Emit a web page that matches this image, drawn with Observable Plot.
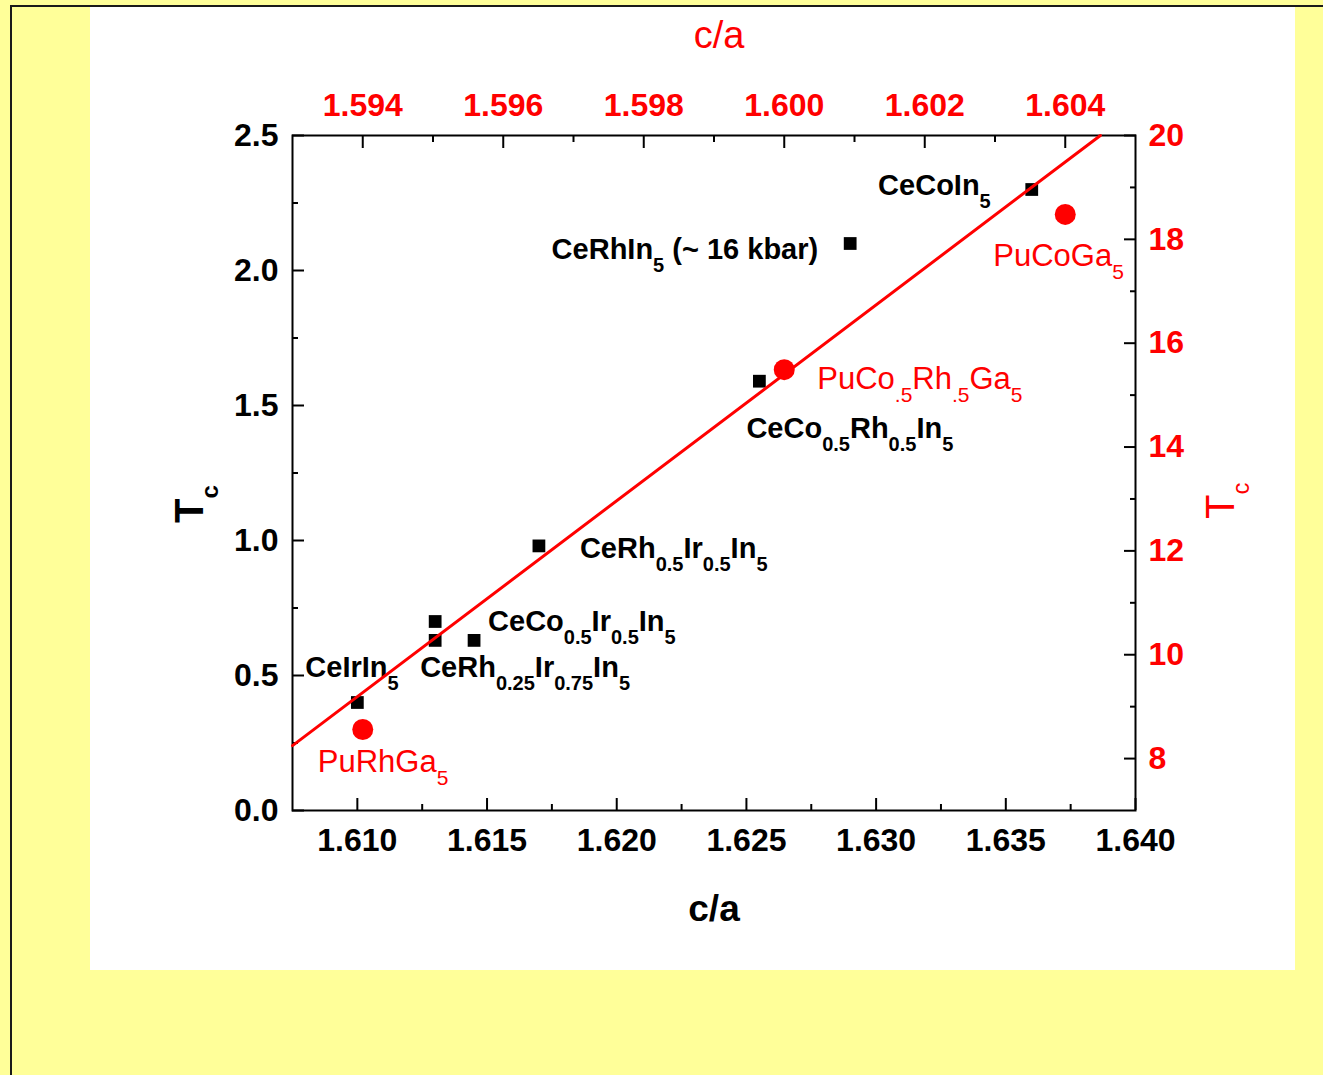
<!DOCTYPE html>
<html>
<head>
<meta charset="utf-8">
<script src="https://cdn.jsdelivr.net/npm/d3@7"></script>
<script src="https://cdn.jsdelivr.net/npm/@observablehq/plot@0.6"></script>
<style>
  html, body { margin: 0; padding: 0; }
  body { width: 1323px; height: 1075px; overflow: hidden; background: #ffff99; position: relative;
         font-family: "Liberation Sans", Arial, sans-serif; }
  #border { position: absolute; left: 10px; top: 5px; width: 1330px; height: 1090px;
            border-left: 2px solid #1a1a1a; border-top: 2px solid #1a1a1a; }
  #panel { position: absolute; left: 90px; top: 7px; width: 1205px; height: 963px; background: #ffffff; }
  .layer { position: absolute; left: 0; top: 0; }
  .layer svg { display: block; max-width: none; }
</style>
</head>
<body>
<div id="border"></div>
<div id="panel">
  <div id="layerA" class="layer"></div>
  <div id="layerB" class="layer"></div>
</div>
<script>
// ---------- Data: Ce-115 compounds (bottom c/a axis, left Tc axis) ----------
const ceCA = [1.6100, 1.6130, 1.6130, 1.6145, 1.6170, 1.6255, 1.6290, 1.6360];
const ceTc = [0.40, 0.63, 0.70, 0.63, 0.98, 1.59, 2.10, 2.30];
const ceLabels = ["CeIrIn_{5}", "CeRh_{0.25}Ir_{0.75}In_{5}", "CeCo_{0.5}Ir_{0.5}In_{5}",
                  "CeRh_{0.5}Ir_{0.5}In_{5}", "CeCo_{0.5}Rh_{0.5}In_{5}",
                  "CeRhIn_{5} (~ 16 kbar)", "CeCoIn_{5}"];
const ceLabelPoint = [0, 1, 3, 4, 5, 6, 7];

// ---------- Data: Pu-115 compounds (top c/a axis, right Tc axis) ----------
const puCA = [1.5940, 1.6000, 1.6040];
const puTc = [8.56, 15.49, 18.48];
const puLabels = ["PuRhGa_{5}", "PuCo_{.5}Rh_{.5}Ga_{5}", "PuCoGa_{5}"];

// linear fit line (top/right units)
const fitCA = [1.5930, 1.6045];
const fitTc = [8.25, 20.0];

// ---------- Axis ticks ----------
const bottomTicks = [1.610, 1.615, 1.620, 1.625, 1.630, 1.635, 1.640];
const bottomMinor = [1.6125, 1.6175, 1.6225, 1.6275, 1.6325, 1.6375];
const leftTicks = [0.0, 0.5, 1.0, 1.5, 2.0, 2.5];
const leftMinor = [0.25, 0.75, 1.25, 1.75, 2.25];
const topTicks = [1.594, 1.596, 1.598, 1.600, 1.602, 1.604];
const topMinor = [1.595, 1.597, 1.599, 1.601, 1.603];
const rightTicks = [8, 10, 12, 14, 16, 18, 20];
const rightMinor = [9, 11, 13, 15, 17, 19];

// ---------- Label placement (pixel offsets from the point, separate from data) ----------
const ceLabelDx = [-52, -15, 14, 41, -13, -32, -41];
const ceLabelDy = [-26, 37, -9, 12, 57, 15, 5];
const ceLabelAnchor = ["start", "start", "start", "start", "start", "end", "end"];
const puLabelDx = [-45, 33, -72];
const puLabelDy = [42, 19, 52];

const FONT = "'Liberation Sans', Arial, Helvetica, sans-serif";
const W = 1205, H = 963;
const M = {marginLeft: 202, marginRight: 160, marginTop: 128, marginBottom: 160};

const ceData = ceCA.map((x, i) => ({ca: x, tc: ceTc[i]}));
const puData = puCA.map((x, i) => ({ca: x, tc: puTc[i]}));
const fitData = fitCA.map((x, i) => ({ca: x, tc: fitTc[i]}));

// ---------- Layer A: black data, bottom & left axes ----------
const blackLabelMarks = ceLabels.map((lab, j) => {
  const p = ceData[ceLabelPoint[j]];
  return Plot.text([{ca: p.ca, tc: p.tc, t: lab}], {
    x: "ca", y: "tc", text: "t", dx: ceLabelDx[j], dy: ceLabelDy[j],
    textAnchor: ceLabelAnchor[j], lineAnchor: "bottom",
    fontSize: 29, fontWeight: "bold", fill: "black"
  });
});

const plotA = Plot.plot({
  width: W, height: H, ...M,
  style: {fontFamily: FONT, background: "transparent", overflow: "visible"},
  x: {domain: [1.6075, 1.640], label: null},
  y: {domain: [0, 2.5], label: null},
  marks: [
    Plot.frame({stroke: "black", strokeWidth: 2}),
    Plot.axisX(bottomTicks, {anchor: "bottom", tickSize: -12, tickPadding: 30, strokeWidth: 2,
      tickFormat: d3.format(".3f"), fontSize: 32, fontWeight: "bold", fill: "black", label: null}),
    Plot.axisX(bottomMinor, {anchor: "bottom", tickSize: -6, strokeWidth: 2, text: null, label: null}),
    Plot.axisY(leftTicks, {anchor: "left", tickSize: -12, tickPadding: 26, strokeWidth: 2,
      tickFormat: d3.format(".1f"), fontSize: 32, fontWeight: "bold", fill: "black", label: null}),
    Plot.axisY(leftMinor, {anchor: "left", tickSize: -6, strokeWidth: 2, text: null, label: null}),
    Plot.dot(ceData, {x: "ca", y: "tc", symbol: "square", r: 7.2, fill: "black", stroke: null}),
    ...blackLabelMarks,
    Plot.text(["c/a"], {frameAnchor: "bottom", dy: 110, lineAnchor: "bottom",
      fontSize: 37, fontWeight: "bold", fill: "black"}),
    Plot.text(["T_{c}"], {frameAnchor: "left", dx: -90, dy: 50, rotate: -90, textAnchor: "start",
      lineAnchor: "bottom", fontSize: 40, fontWeight: "bold", fill: "black"})
  ]
});

// ---------- Layer B: red data, top & right axes ----------
const redLabelMarks = puLabels.map((lab, j) => Plot.text([{ca: puCA[j], tc: puTc[j], t: lab}], {
  x: "ca", y: "tc", text: "t", dx: puLabelDx[j], dy: puLabelDy[j],
  textAnchor: "start", lineAnchor: "bottom", fontSize: 31, fill: "#ff0000"
}));

const plotB = Plot.plot({
  width: W, height: H, ...M,
  style: {fontFamily: FONT, background: "transparent", overflow: "visible"},
  x: {domain: [1.593, 1.605], label: null},
  y: {domain: [7, 20], label: null},
  marks: [
    Plot.axisX(topTicks, {anchor: "top", tickSize: -12, tickPadding: 32, strokeWidth: 2, stroke: "black",
      tickFormat: d3.format(".3f"), fontSize: 32, fontWeight: "bold", fill: "#ff0000", label: null}),
    Plot.axisX(topMinor, {anchor: "top", tickSize: -6, strokeWidth: 2, stroke: "black", text: null, label: null}),
    Plot.axisY(rightTicks, {anchor: "right", tickSize: -12, tickPadding: 25, strokeWidth: 2, stroke: "black",
      tickFormat: d3.format("d"), fontSize: 32, fontWeight: "bold", fill: "#ff0000", label: null}),
    Plot.axisY(rightMinor, {anchor: "right", tickSize: -6, strokeWidth: 2, stroke: "black", text: null, label: null}),
    Plot.line(fitData, {x: "ca", y: "tc", stroke: "#ff0000", strokeWidth: 3}),
    Plot.dot(puData, {x: "ca", y: "tc", r: 10.5, fill: "#ff0000", stroke: null}),
    ...redLabelMarks,
    Plot.text(["c/a"], {frameAnchor: "top", dx: 5, dy: -88, lineAnchor: "bottom",
      fontSize: 38, fill: "#ff0000"}),
    Plot.text(["T_{c}"], {frameAnchor: "right", dx: 98, dy: 46, rotate: -90, textAnchor: "start",
      lineAnchor: "bottom", fontSize: 40, fill: "#ff0000"})
  ]
});

document.getElementById("layerA").appendChild(plotA);
document.getElementById("layerB").appendChild(plotB);

// ---------- Rich text: turn _{...} into subscript tspans ----------
function richify(svg) {
  d3.select(svg).selectAll("text").each(function () {
    const s = this.textContent;
    if (!s.includes("_{")) return;
    const main = parseFloat(getComputedStyle(this).fontSize) || 29;
    const subSize = main >= 38 ? 24 : Math.round(main * 0.69);
    const shift = main >= 38 ? 15 : 13;
    const parts = s.split(/(_\{[^}]*\})/).filter(p => p.length);
    while (this.firstChild) this.removeChild(this.firstChild);
    let down = false;
    for (const p of parts) {
      const m = p.match(/^_\{(.*)\}$/);
      const t = d3.select(this).append("tspan");
      if (m) {
        t.text(m[1]).attr("font-size", subSize);
        if (!down) { t.attr("dy", shift); down = true; }
      } else {
        t.text(p);
        if (down) { t.attr("dy", -shift); down = false; }
      }
    }
  });
}
richify(plotA);
richify(plotB);
</script>
</body>
</html>
